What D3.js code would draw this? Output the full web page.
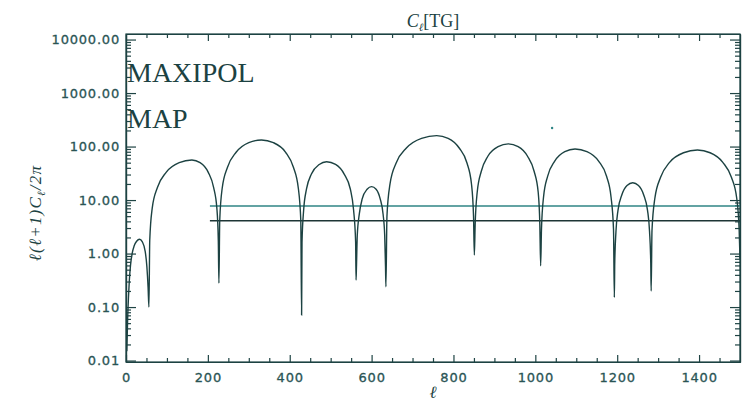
<!DOCTYPE html>
<html>
<head>
<meta charset="utf-8">
<script src="https://cdn.jsdelivr.net/npm/d3@7"></script>
<style>
  body { margin: 0; background: #fff; }
  svg { display: block; }
  .tick text { font-family: "DejaVu Sans", sans-serif; font-size: 13px; letter-spacing: 0.8px; fill: #2a5454; stroke: #2a5454; stroke-width: 0.3px; }
  .axis path, .axis line { stroke: #1f4444; stroke-width: 1.2; }
</style>
</head>
<body>
<div id="chart"></div>
<script>
// TG spectrum, one row per arch (multipole, value)
var ell = [
  2, 4, 6, 8, 11, 15, 20, 26, 33, 40, 47, 51, 54, 56,
  58, 64, 77, 98, 130, 161, 181, 201, 214, 222, 225.5, 227,
  229, 235, 248, 269, 300, 331, 360, 390, 409, 421, 427, 429,
  430, 434, 441, 453, 472, 490, 512, 533, 548, 556, 561, 562,
  563, 565, 570, 577, 589, 600, 611, 621, 628, 632, 634, 635,
  637.5, 645, 660, 685, 722, 759, 787, 814, 833, 844, 849, 851,
  853, 858, 868, 884, 909, 934, 958, 981, 997, 1007, 1011, 1013,
  1015, 1020, 1030, 1047, 1072, 1097, 1126, 1155, 1174, 1185, 1191, 1193,
  1194, 1197, 1202, 1211, 1224, 1238, 1252, 1265, 1274, 1279, 1282, 1283,
  1285, 1292, 1306, 1328, 1362, 1396, 1427, 1458, 1479, 1492, 1498, 1500
];
var clTG = [
  0.015, 0.06, 0.15, 0.3, 0.6, 1.0, 1.4, 1.7, 1.85, 1.65, 1.09, 0.57, 0.23, 0.10,
  1.76, 7.0, 17.3, 32.9, 49.9, 56, 49.9, 32.9, 17.3, 7.0, 1.76, 0.28,
  4.18, 16.6, 41.1, 78.2, 118.5, 133, 118.5, 78.2, 41.1, 16.6, 4.18, 0.071,
  1.63, 6.5, 16.1, 30.6, 46.3, 52, 46.3, 30.6, 16.1, 6.5, 1.63, 0.32,
  0.56, 2.2, 5.5, 10.5, 15.9, 17.8, 15.9, 10.5, 5.5, 2.2, 0.56, 0.24,
  5.0, 20, 49.4, 94, 142.6, 160, 142.6, 94, 49.4, 20, 5.0, 0.94,
  3.5, 14, 34.6, 65.9, 99.8, 112, 99.8, 65.9, 34.6, 14, 3.5, 0.59,
  2.83, 11.3, 27.8, 52.9, 80.2, 90, 80.2, 52.9, 27.8, 11.3, 2.83, 0.152,
  0.66, 2.6, 6.5, 12.3, 18.7, 21, 18.7, 12.3, 6.5, 2.6, 0.66, 0.20,
  2.7, 10.8, 26.6, 50.6, 76.6, 86, 76.6, 50.6, 26.6, 10.8, 2.7, 0.8
];

// the two flat levels (MAXIPOL / MAP) drawn from l=205 to the edge
var levelNames = ["MAXIPOL", "MAP"];
var levelValues = [7.75, 4.1];
var levelFrom = 205, levelTo = 1500;

// lone dot near the top
var strayPoint = [1041, 222];

var xMajor = [0, 200, 400, 600, 800, 1000, 1200, 1400];
var xMinor = d3.range(50, 1500, 50).filter(d => d % 200 != 0);
var yMajor = [0.01, 0.1, 1, 10, 100, 1000, 10000];
var yMinor = [];
yMajor.slice(0, 6).forEach(function(d) {
  for (var m = 2; m <= 9; m++) yMinor.push(d * m);
});

var w = 746, h = 402;
var pLeft = 126, pRight = 740, pTop = 34, pBottom = 362;
var ink = "#1c4242";

var x = d3.scaleLinear().domain([0, 1500]).range([pLeft, pRight]);
var y = d3.scaleLog().domain([0.0094, 12700]).range([pBottom, pTop]);

var svg = d3.select("#chart").append("svg")
  .attr("width", w)
  .attr("height", h);

// axes, IDL style: ticks on all four sides pointing in
svg.append("g").attr("class", "axis")
  .attr("transform", `translate(0,${pBottom})`)
  .call(d3.axisBottom(x).tickValues(xMajor).tickFormat(d3.format("d"))
    .tickSizeInner(-7).tickSizeOuter(0).tickPadding(11));
svg.append("g").attr("class", "axis")
  .attr("transform", `translate(0,${pBottom})`)
  .call(d3.axisBottom(x).tickValues(xMinor).tickFormat("").tickSizeInner(-4).tickSizeOuter(0));
svg.append("g").attr("class", "axis")
  .attr("transform", `translate(0,${pTop})`)
  .call(d3.axisTop(x).tickValues(xMajor).tickFormat("").tickSizeInner(-7).tickSizeOuter(0));
svg.append("g").attr("class", "axis")
  .attr("transform", `translate(0,${pTop})`)
  .call(d3.axisTop(x).tickValues(xMinor).tickFormat("").tickSizeInner(-4).tickSizeOuter(0));

svg.append("g").attr("class", "axis")
  .attr("transform", `translate(${pLeft},0)`)
  .call(d3.axisLeft(y).tickValues(yMajor).tickFormat(d3.format(".2f"))
    .tickSizeInner(-10).tickSizeOuter(0).tickPadding(6));
svg.append("g").attr("class", "axis")
  .attr("transform", `translate(${pLeft},0)`)
  .call(d3.axisLeft(y).tickValues(yMinor).tickFormat("").tickSizeInner(-5).tickSizeOuter(0));
svg.append("g").attr("class", "axis")
  .attr("transform", `translate(${pRight},0)`)
  .call(d3.axisRight(y).tickValues(yMajor).tickFormat("").tickSizeInner(-10).tickSizeOuter(0));
svg.append("g").attr("class", "axis")
  .attr("transform", `translate(${pRight},0)`)
  .call(d3.axisRight(y).tickValues(yMinor).tickFormat("").tickSizeInner(-5).tickSizeOuter(0));

svg.append("rect")
  .attr("x", pLeft).attr("y", pTop)
  .attr("width", pRight - pLeft).attr("height", pBottom - pTop)
  .attr("fill", "none").attr("stroke", ink).attr("stroke-width", 1.2);

// flat levels
var levelColors = ["#2f8585", "#1d3535"];
svg.selectAll("line.level")
  .data(levelValues)
  .enter()
  .append("line")
  .attr("class", "level")
  .attr("x1", x(levelFrom)).attr("x2", x(levelTo))
  .attr("y1", d => y(d)).attr("y2", d => y(d))
  .attr("stroke", (d, i) => levelColors[i])
  .attr("stroke-width", 1.3);

// spectrum
var pts = ell.map((l, i) => [l, clTG[i]]);
var line = d3.line()
  .x(d => x(d[0]))
  .y(d => y(d[1]))
  .curve(d3.curveMonotoneX);
svg.append("path")
  .datum(pts)
  .attr("d", line)
  .attr("fill", "none")
  .attr("stroke", ink)
  .attr("stroke-width", 1.4);

svg.append("circle")
  .attr("cx", x(strayPoint[0])).attr("cy", y(strayPoint[1]))
  .attr("r", 1.2).attr("fill", "#2f8585");

// legend words
svg.selectAll("text.name")
  .data(levelNames)
  .enter()
  .append("text")
  .attr("class", "name")
  .attr("x", 127)
  .attr("y", (d, i) => 82 + i * 46)
  .attr("font-family", "'Liberation Serif', 'DejaVu Serif', serif")
  .attr("font-size", 28)
  .attr("fill", ink)
  .text(d => d);

// title
var title = svg.append("text")
  .attr("x", (pLeft + pRight) / 2).attr("y", 27)
  .attr("text-anchor", "middle")
  .attr("font-family", "'Liberation Serif', 'DejaVu Serif', serif")
  .attr("font-size", 18)
  .attr("fill", ink);
title.append("tspan").attr("font-style", "italic").text("C");
title.append("tspan").attr("font-style", "italic").attr("font-size", 11).attr("dy", 4).text("ℓ");
title.append("tspan").attr("dy", -4).text("[TG]");

// x label
svg.append("text")
  .attr("x", (pLeft + pRight) / 2).attr("y", 398)
  .attr("text-anchor", "middle")
  .attr("font-family", "'Liberation Serif', 'DejaVu Serif', serif")
  .attr("font-style", "italic")
  .attr("font-size", 17)
  .attr("fill", ink)
  .text("ℓ");

// y label
var ylab = svg.append("text")
  .attr("transform", "translate(41,213) rotate(-90)")
  .attr("text-anchor", "middle")
  .attr("font-family", "'Liberation Serif', 'DejaVu Serif', serif")
  .attr("font-style", "italic")
  .attr("font-size", 17)
  .attr("letter-spacing", 1.2)
  .attr("fill", ink);
ylab.append("tspan").text("ℓ(ℓ+1)C");
ylab.append("tspan").attr("font-size", 11).attr("dy", 4).text("ℓ");
ylab.append("tspan").attr("dy", -4).text("/2π");
</script>
</body>
</html>
